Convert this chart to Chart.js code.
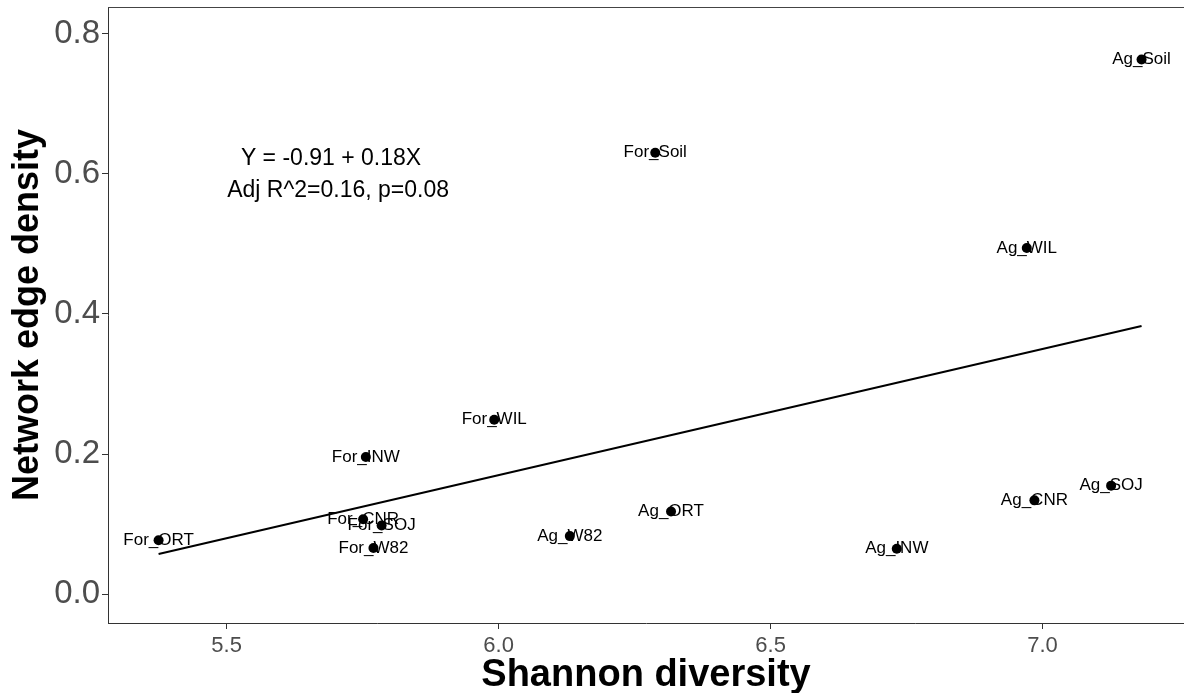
<!DOCTYPE html>
<html>
<head>
<meta charset="utf-8">
<title>Edge density vs Shannon diversity</title>
<script src="https://cdn.jsdelivr.net/npm/chart.js@4.4.1/dist/chart.umd.min.js"></script>
<style>
  html, body { margin: 0; padding: 0; background: #fff; }
  #wrap { width: 1184px; height: 693px; }
</style>
</head>
<body>
<div id="wrap"><canvas id="densityChart" width="1184" height="693"></canvas></div>
<script>
// sites, Shannon diversity and network edge density
const sites = ["For_ORT", "For_CNR", "For_SOJ", "For_W82", "For_INW", "For_WIL", "For_Soil",
  "Ag_W82", "Ag_ORT", "Ag_INW", "Ag_CNR", "Ag_WIL", "Ag_SOJ", "Ag_Soil"];
const shannon = [5.375, 5.751, 5.785, 5.770, 5.756, 5.992, 6.288,
  6.131, 6.317, 6.732, 6.985, 6.971, 7.126, 7.182];
const edgeDensity = [0.077, 0.107, 0.098, 0.066, 0.196, 0.249, 0.630,
  0.083, 0.118, 0.065, 0.134, 0.494, 0.155, 0.763];

const xTicks = [5.5, 6.0, 6.5, 7.0];
const yTicks = [0.0, 0.2, 0.4, 0.6, 0.8];

// linear fit as reported
const fitIntercept = -0.91;
const fitSlope = 0.18;
const fitNotes = ["Y = -0.91 + 0.18X", "Adj R^2=0.16, p=0.08"];
const fitNotePos = [[5.692, 0.622], [5.705, 0.576]];

const FONT = '"Liberation Sans", Arial, Helvetica, sans-serif';
Chart.defaults.font.family = FONT;

const points = shannon.map((v, i) => ({ x: v, y: edgeDensity[i] }));
const xMin = Math.min(...shannon);
const xMax = Math.max(...shannon);
const fitLine = [xMin, xMax].map(v => ({ x: v, y: fitIntercept + fitSlope * v }));

// text labels on the points, the fit equation and the top panel edge
const annotations = {
  id: "annotations",
  afterDatasetsDraw(chart) {
    const { ctx, chartArea, scales: { x, y } } = chart;
    ctx.save();
    ctx.fillStyle = "#000";
    ctx.textAlign = "center";
    ctx.textBaseline = "middle";
    ctx.font = "17px " + FONT;
    sites.forEach((s, i) => {
      ctx.fillText(s, x.getPixelForValue(shannon[i]), y.getPixelForValue(edgeDensity[i]));
    });
    ctx.font = "23px " + FONT;
    fitNotes.forEach((t, i) => {
      ctx.fillText(t, x.getPixelForValue(fitNotePos[i][0]), y.getPixelForValue(fitNotePos[i][1]));
    });
    ctx.strokeStyle = "#444";
    ctx.lineWidth = 1;
    ctx.beginPath();
    ctx.moveTo(chartArea.left, chartArea.top + 0.5);
    ctx.lineTo(chartArea.right, chartArea.top + 0.5);
    ctx.stroke();
    ctx.restore();
  }
};

const ctx = document.getElementById("densityChart").getContext("2d");
new Chart(ctx, {
  type: "scatter",
  data: {
    datasets: [
      {
        label: "sites",
        data: points,
        pointRadius: 5,
        pointBackgroundColor: "#000",
        pointBorderWidth: 0
      },
      {
        label: "fit",
        data: fitLine,
        showLine: true,
        borderColor: "#000",
        borderWidth: 2,
        pointRadius: 0
      }
    ]
  },
  options: {
    responsive: false,
    animation: false,
    devicePixelRatio: 1,
    layout: { autoPadding: false, padding: { top: 7, right: 0, bottom: 0, left: 0 } },
    plugins: { legend: { display: false }, tooltip: { enabled: false } },
    scales: {
      x: {
        type: "linear",
        min: 5.282,
        max: 7.26,
        afterBuildTicks: s => { s.ticks = xTicks.map(v => ({ value: v })); },
        afterFit: s => { s.height = 70; s.paddingLeft = 0; s.paddingRight = 0; },
        grid: { drawOnChartArea: false, tickLength: 6, tickColor: "#333", tickWidth: 1 },
        border: { color: "#333", width: 1 },
        ticks: {
          color: "#4d4d4d",
          font: { size: 22 },
          padding: 4,
          maxRotation: 0,
          callback: v => v.toFixed(1)
        },
        title: {
          display: true,
          text: "Shannon diversity",
          color: "#000",
          font: { size: 38, weight: "bold" },
          padding: { top: 0, bottom: -5 }
        }
      },
      y: {
        type: "linear",
        min: -0.041,
        max: 0.838,
        afterBuildTicks: s => { s.ticks = yTicks.map(v => ({ value: v })); },
        afterFit: s => { s.width = 108; s.paddingTop = 0; s.paddingBottom = 0; },
        grid: { drawOnChartArea: false, tickLength: 6, tickColor: "#333", tickWidth: 1 },
        border: { color: "#333", width: 1 },
        ticks: {
          color: "#4d4d4d",
          font: { size: 33 },
          padding: 2,
          callback: v => v.toFixed(1)
        },
        title: {
          display: true,
          text: "Network edge density",
          color: "#000",
          font: { size: 36, weight: "bold" },
          padding: { top: 6, bottom: 0 }
        }
      }
    }
  },
  plugins: [annotations]
});
</script>
</body>
</html>
